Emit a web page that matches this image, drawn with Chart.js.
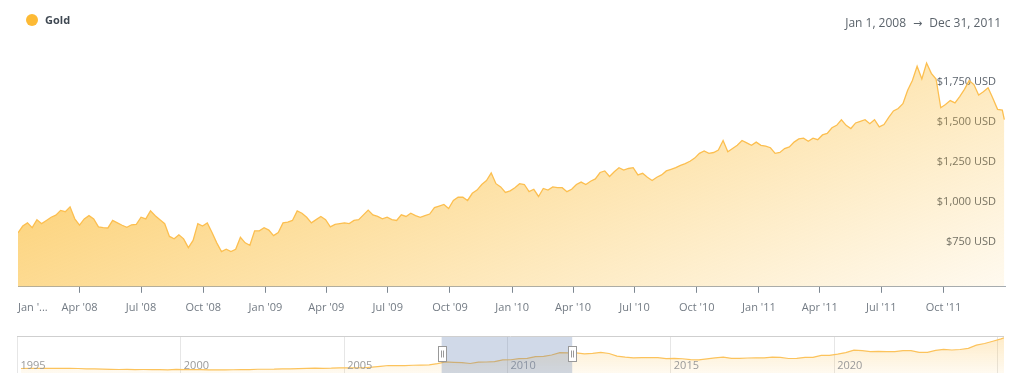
<!DOCTYPE html>
<html>
<head>
<meta charset="utf-8">
<script src="https://cdn.jsdelivr.net/npm/chart.js@4.4.1/dist/chart.umd.min.js"></script>
<style>
  html, body { margin: 0; padding: 0; background: #fff; }
  body { width: 1024px; height: 391px; position: relative; overflow: hidden; font-family: 'Open Sans', sans-serif; }
  #main { position: absolute; left: 0; top: 0; }
  #nav { position: absolute; left: 0; top: 320px; }
  #legend { position: absolute; left: 26px; top: 14px; height: 12px; line-height: 12px; font-size: 11px; font-weight: 700; color: #3f4852; display: flex; align-items: center; }
  #legend .dot { width: 12px; height: 12px; border-radius: 50%; background: #fdba35; margin-right: 7px; }
  #range { position: absolute; right: 23px; top: 14px; line-height: 18px; font-size: 12px; color: #5b636b; white-space: pre; }
  #range .arrow { display: inline-block; margin: 0 7px; font-family: 'DejaVu Sans', sans-serif; font-size: 11px; }
</style>
</head>
<body>
<canvas id="main" width="1024" height="324"></canvas>
<canvas id="nav" width="1024" height="71"></canvas>
<div id="legend"><span class="dot"></span><span id="legendText"></span></div>
<div id="range"><span id="rangeFrom"></span><span class="arrow">&rarr;</span><span id="rangeTo"></span></div>
<script>
const seriesName = 'Gold';
const rangeStart = '2008-01-01';
const rangeEnd = '2011-12-31';
const rangeText = ['Jan 1, 2008', 'Dec 31, 2011'];

// weekly prices (USD), one every 7 days from rangeStart
const goldWeekly = [
  // 2008
  838, 880, 900, 870, 920, 895, 915, 935, 948, 978, 970, 1000, 925, 885, 925, 945, 925, 875,
  870, 868, 915, 900, 885, 872, 888, 890, 935, 925, 975, 945, 920, 895, 815, 800, 825, 800,
  745, 790, 895, 880, 900, 840, 775, 720, 735, 720, 735, 810, 775, 760, 850, 850, 870,
  // 2009
  855, 820, 840, 900, 905, 915, 975, 960, 935, 900, 920, 940, 920, 875, 890, 895, 900, 895,
  915, 920, 950, 980, 950, 940, 925, 935, 920, 915, 950, 940, 960, 945, 935, 945, 955, 995,
  1005, 1015, 990, 1040, 1060, 1060, 1040, 1085, 1105, 1140, 1165, 1212, 1145, 1125, 1090, 1100,
  // 2010
  1120, 1145, 1140, 1095, 1110, 1065, 1115, 1105, 1125, 1120, 1120, 1095, 1110, 1140, 1155, 1140,
  1160, 1175, 1215, 1225, 1190, 1220, 1245, 1230, 1240, 1245, 1200, 1210, 1185, 1165, 1185, 1200,
  1225, 1235, 1245, 1260, 1270, 1285, 1305, 1335, 1350, 1335, 1340, 1355, 1415, 1345, 1365, 1385,
  1415, 1400, 1385, 1405,
  // 2011
  1385, 1380, 1370, 1335, 1340, 1365, 1375, 1405, 1425, 1430, 1410, 1430, 1420, 1450, 1460, 1495,
  1510, 1545, 1510, 1490, 1525, 1535, 1545, 1520, 1545, 1500, 1515, 1560, 1600, 1615, 1645, 1730,
  1790, 1880, 1800, 1900, 1835, 1800, 1620, 1640, 1665, 1650, 1690, 1735, 1790, 1765, 1700, 1720,
  1745, 1680, 1610, 1605
];
const goldLastDate = '2011-12-30';
const goldLastPrice = 1545;

const monthNames = ['Jan', 'Feb', 'Mar', 'Apr', 'May', 'Jun', 'Jul', 'Aug', 'Sep', 'Oct', 'Nov', 'Dec'];
const tickMonths = [0, 3, 6, 9];
const tickYears = [2008, 2009, 2010, 2011];
const priceMin = 500;
const priceMax = 2000;
const priceTicks = [750, 1000, 1250, 1500, 1750];

// navigator: quarterly averages from 1995
const navStart = '1995-01-01';
const navEnd = '2025-03-20';
const navQuarterly = [
  379, 385, 384, 387,  400, 390, 385, 378,  352, 343, 324, 307,  294, 300, 289, 294,
  287, 276, 260, 300,  290, 280, 277, 269,  264, 267, 274, 279,  290, 313, 314, 322,
  352, 347, 363, 391,  408, 393, 401, 434,  427, 427, 440, 485,  554, 628, 622, 613,
  650, 667, 680, 788,  925, 896, 872, 795,  908, 922, 960, 1100, 1109, 1197, 1227, 1367,
  1386, 1506, 1702, 1688, 1691, 1609, 1652, 1722, 1632, 1415, 1326, 1272, 1293, 1288, 1282, 1201,
  1218, 1192, 1124, 1105, 1183, 1260, 1335, 1222, 1219, 1257, 1278, 1275, 1329, 1306, 1213, 1228,
  1304, 1309, 1472, 1481, 1583, 1711, 1909, 1874, 1794, 1816, 1789, 1795, 1877, 1871, 1729, 1726,
  1890, 1976, 1928, 1971, 2070, 2338, 2474, 2663, 2860
];
const navLastDate = '2025-03-20';
const navLastPrice = 2950;
const navMax = 3100;
const navGridYears = [1995, 2000, 2005, 2010, 2015, 2020, 2025];
const navLabelYears = [1995, 2000, 2005, 2010, 2015, 2020];

const DAY = 86400000;
const ts = s => Date.parse(s + 'T00:00:00Z');

Chart.defaults.font.family = "'Open Sans', sans-serif";
Chart.defaults.font.size = 11;

document.getElementById('legendText').textContent = seriesName;
document.getElementById('rangeFrom').textContent = rangeText[0];
document.getElementById('rangeTo').textContent = rangeText[1];

const goldPoints = goldWeekly.map((v, i) => ({x: ts(rangeStart) + i * 7 * DAY, y: v}));
goldPoints.push({x: ts(goldLastDate), y: goldLastPrice});

const navPoints = navQuarterly.map((v, i) => ({x: Date.UTC(1995 + Math.floor(i / 4), (i % 4) * 3 + 1, 15), y: v}));
navPoints.push({x: ts(navLastDate), y: navLastPrice});

function goldFill(context) {
    let chart = context.chart;
    let a = chart.chartArea;
    if (!a) return 'rgba(251,186,48,0.4)';
    let g = chart.ctx.createLinearGradient(a.left, a.top, a.left + 226, a.top + 550);
    g.addColorStop(0, 'rgba(251,186,48,0.80)');
    g.addColorStop(1, 'rgba(251,186,48,0.08)');
    return g;
}

function navFill(context) {
    let a = context.chart.chartArea;
    if (!a) return 'rgba(252,195,92,0.2)';
    let g = context.chart.ctx.createLinearGradient(0, a.top, 0, a.bottom);
    g.addColorStop(0, 'rgba(252,190,70,0.30)');
    g.addColorStop(1, 'rgba(252,190,70,0.08)');
    return g;
}

const xTicks = [];
tickYears.forEach(y => tickMonths.forEach(m => xTicks.push(Date.UTC(y, m, 1))));
xTicks.push(ts(rangeEnd));

new Chart(document.getElementById('main'), {
    type: 'line',
    data: {
        datasets: [{
            label: seriesName,
            data: goldPoints,
            borderColor: '#fcbf50',
            borderWidth: 1.3,
            pointRadius: 0,
            tension: 0,
            fill: 'start',
            backgroundColor: goldFill,
        }]
    },
    options: {
        responsive: false,
        animation: false,
        events: [],
        layout: {padding: {top: 47, left: 18, right: 19, bottom: 2}},
        plugins: {legend: {display: false}, tooltip: {enabled: false}},
        scales: {
            x: {
                type: 'linear',
                min: ts(rangeStart),
                max: ts(rangeEnd),
                afterBuildTicks: scale => { scale.ticks = xTicks.map(v => ({value: v})); },
                grid: {
                    drawOnChartArea: false,
                    drawTicks: true,
                    tickLength: 6,
                    tickColor: c => (c.index === 0 || c.index === xTicks.length - 1) ? 'rgba(0,0,0,0)' : '#7d8791',
                },
                border: {color: '#a3abb3'},
                ticks: {
                    align: 'inner',
                    autoSkip: false,
                    maxRotation: 0,
                    padding: 8,
                    color: '#737b84',
                    callback: (v, i) => {
                        if (i === 0) return "Jan '...";
                        if (i === xTicks.length - 1) return '';
                        let d = new Date(v);
                        return monthNames[d.getUTCMonth()] + " '" + String(d.getUTCFullYear()).slice(2);
                    }
                }
            },
            y: {
                position: 'right',
                min: priceMin,
                max: priceMax,
                afterBuildTicks: scale => { scale.ticks = priceTicks.map(v => ({value: v})); },
                afterFit: scale => { scale.width = 0; },
                grid: {display: false, drawTicks: false},
                border: {display: false},
                ticks: {
                    mirror: true,
                    padding: -9,
                    labelOffset: -5,
                    color: '#5c646d',
                    callback: v => '$' + v.toLocaleString('en-US') + ' USD'
                }
            }
        }
    }
});

const navigatorDecor = {
    id: 'navigatorDecor',
    beforeDatasetsDraw(chart) {
        let {ctx, chartArea: a, scales: {x}} = chart;
        ctx.save();
        ctx.strokeStyle = '#e6e6e6';
        ctx.lineWidth = 1;
        navGridYears.forEach(y => {
            let px = Math.round(x.getPixelForValue(Date.UTC(y, 0, 1))) + 0.5;
            ctx.beginPath(); ctx.moveTo(px, a.top); ctx.lineTo(px, a.bottom); ctx.stroke();
        });
        ctx.strokeStyle = '#cfcfcf';
        ctx.beginPath(); ctx.moveTo(a.left, a.top + 0.5); ctx.lineTo(a.right, a.top + 0.5); ctx.stroke();
        ctx.restore();
    },
    afterDatasetsDraw(chart) {
        let {ctx, chartArea: a, scales: {x}} = chart;
        ctx.save();
        ctx.font = "11px 'Open Sans', sans-serif";
        ctx.fillStyle = '#9a9a9a';
        ctx.textBaseline = 'middle';
        ctx.textAlign = 'left';
        navLabelYears.forEach(y => {
            let px = x.getPixelForValue(Date.UTC(y, 0, 1));
            ctx.fillText(String(y), px + 3.5, a.bottom - 7);
        });
        let x0 = x.getPixelForValue(ts(rangeStart));
        let x1 = x.getPixelForValue(ts(rangeEnd));
        ctx.fillStyle = 'rgba(100,130,180,0.3)';
        ctx.fillRect(x0, a.top + 1, x1 - x0, a.bottom - a.top - 1);
        [x0, x1].forEach(px => {
            let hx = Math.round(px) - 4 + 0.5;
            let hy = a.top + 10.5;
            ctx.fillStyle = '#ffffff';
            ctx.strokeStyle = '#999999';
            ctx.fillRect(hx, hy, 8, 15);
            ctx.strokeRect(hx, hy, 8, 15);
            ctx.beginPath();
            ctx.moveTo(hx + 3, hy + 4); ctx.lineTo(hx + 3, hy + 11);
            ctx.moveTo(hx + 5, hy + 4); ctx.lineTo(hx + 5, hy + 11);
            ctx.stroke();
        });
        ctx.restore();
    }
};

new Chart(document.getElementById('nav'), {
    type: 'line',
    data: {
        datasets: [{
            data: navPoints,
            borderColor: '#fcc35c',
            borderWidth: 1.2,
            pointRadius: 0,
            tension: 0,
            fill: 'start',
            backgroundColor: navFill,
        }]
    },
    options: {
        responsive: false,
        animation: false,
        events: [],
        layout: {padding: {top: 16, left: 17, right: 20, bottom: 18}},
        plugins: {legend: {display: false}, tooltip: {enabled: false}},
        scales: {
            x: {type: 'linear', display: false, min: ts(navStart), max: ts(navEnd)},
            y: {display: false, min: 0, max: navMax}
        }
    },
    plugins: [navigatorDecor]
});
</script>
</body>
</html>
